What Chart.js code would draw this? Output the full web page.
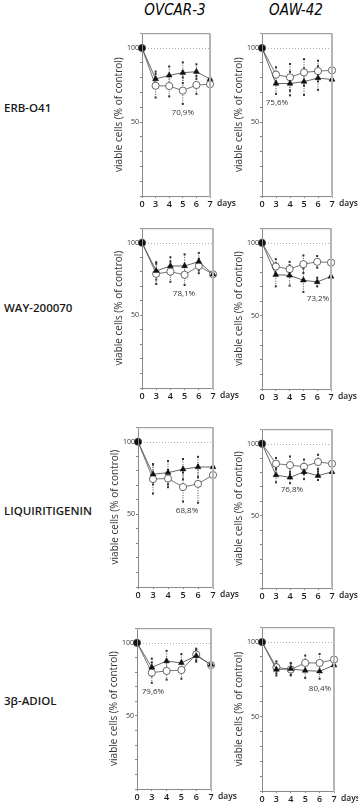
<!DOCTYPE html>
<html>
<head>
<meta charset="utf-8">
<script src="https://cdn.jsdelivr.net/npm/chart.js@4.4.0/dist/chart.umd.min.js"></script>
<style>
  body { margin: 0; background: #fff; width: 358px; height: 806px; position: relative; overflow: hidden; font-family: "Open Sans", sans-serif; }
  canvas { position: absolute; }
  .col { position: absolute; top: 1px; font-family: "DejaVu Sans"; font-stretch: condensed; font-style: oblique; font-size: 15px; color: #000; transform: translateX(-50%); white-space: nowrap; }
  .row { position: absolute; left: 4px; font-weight: 600; font-size: 11.5px; color: #1a1a1a; transform: translateY(-50%); white-space: nowrap; }
</style>
</head>
<body>
<div class="col" style="left:175px">OVCAR-3</div>
<div class="col" style="left:296px">OAW-42</div>
<div class="row" style="top:107px">ERB-O41</div>
<div class="row" style="top:307px">WAY-200070</div>
<div class="row" style="top:510px">LIQUIRITIGENIN</div>
<div class="row" style="top:700px">3β-ADIOL</div>

<script>
// x categories (days)
const days = ['0', '3', '4', '5', '6', '7'];
const shownTicks = [50, 100];

// ERB-041
const erbOvcarTri = [100, 79.1, 81.5, 83.3, 84.0, 79.0];
const erbOvcarTriErr = [0, 5, 6, 7, 5, 6];
const erbOvcarCirc = [100, 74.5, 74.3, 71.2, 75.0, 75.5];
const erbOvcarCircErr = [0, 8, 7, 9, 6, 7];
const erbOawCirc = [100, 82.0, 80.2, 83.5, 84.4, 84.9];
const erbOawCircErr = [0, 5, 9, 9, 7, 5];
const erbOawTri = [100, 76.0, 76.0, 77.3, 79.7, 78.7];
const erbOawTriErr = [0, 7, 8, 9, 8, 9];

// WAY-200070
const wayOvcarTri = [100, 80.6, 84.0, 84.0, 87.0, 78.3];
const wayOvcarTriErr = [0, 6, 6, 8, 6, 6];
const wayOvcarCirc = [100, 78.6, 80.1, 77.9, 84.0, 78.3];
const wayOvcarCircErr = [0, 7, 7, 7, 5, 7];
const wayOawCirc = [100, 83.8, 82.0, 85.4, 87.0, 86.5];
const wayOawCircErr = [0, 5, 5, 6, 4, 5];
const wayOawTri = [100, 78.2, 77.7, 74.4, 73.2, 77.0];
const wayOawTriErr = [0, 8, 7, 8, 3, 5];

// LIQUIRITIGENIN
const liqOvcarTri = [100, 77.6, 78.7, 81.1, 82.6, 82.6];
const liqOvcarTriErr = [0, 7, 8, 7, 7, 8];
const liqOvcarCirc = [100, 74.3, 74.7, 68.8, 71.0, 77.1];
const liqOvcarCircErr = [0, 10, 6, 10, 13, 8];
const liqOawCirc = [100, 86.1, 85.1, 84.0, 87.3, 86.1];
const liqOawCircErr = [0, 4, 6, 5, 5, 4];
const liqOawTri = [100, 78.2, 76.6, 80.4, 77.8, 80.4];
const liqOawTriErr = [0, 5, 4, 5, 3, 4];

// 3beta-ADIOL
const adiolOvcarTri = [100, 83.2, 87.5, 86.3, 91.1, 85.2];
const adiolOvcarTriErr = [0, 6, 7, 6, 4, 5];
const adiolOvcarCirc = [100, 79.6, 80.8, 81.4, 92.0, 84.8];
const adiolOvcarCircErr = [0, 7, 6, 6, 4, 4];
const adiolOawCirc = [100, 83.1, 81.6, 86.0, 86.0, 88.3];
const adiolOawCircErr = [0, 4, 4, 5, 6, 5];
const adiolOawTri = [100, 81.6, 82.0, 80.9, 80.4, 84.5];
const adiolOawTriErr = [0, 4, 4, 5, 5, 5];

// minimum labels: [text, x (category index), y (value)]
const erbOvcarNote = ['70,9%', 3.0, 56.3];
const erbOawNote = ['75,6%', 1.07, 63.2];
const wayOvcarNote = ['78,1%', 2.96, 65.1];
const wayOawNote = ['73,2%', 4.06, 62];
const liqOvcarNote = ['68,8%', 3.27, 52.6];
const liqOawNote = ['76,8%', 2.14, 68];
const adiolOvcarNote = ['79,6%', 1.08, 66.7];
const adiolOawNote = ['80,4%', 4.03, 68.7];

// plot box [left, top, right, bottom] in page pixels
const panels = [
  { box: [142, 32, 210, 196], tri: erbOvcarTri, triErr: erbOvcarTriErr, circ: erbOvcarCirc, circErr: erbOvcarCircErr, note: erbOvcarNote },
  { box: [262, 32, 332, 196], tri: erbOawTri, triErr: erbOawTriErr, circ: erbOawCirc, circErr: erbOawCircErr, note: erbOawNote },
  { box: [142, 227, 213, 388], tri: wayOvcarTri, triErr: wayOvcarTriErr, circ: wayOvcarCirc, circErr: wayOvcarCircErr, note: wayOvcarNote },
  { box: [262, 227, 331, 389], tri: wayOawTri, triErr: wayOawTriErr, circ: wayOawCirc, circErr: wayOawCircErr, note: wayOawNote },
  { box: [138, 426, 213, 587], tri: liqOvcarTri, triErr: liqOvcarTriErr, circ: liqOvcarCirc, circErr: liqOvcarCircErr, note: liqOvcarNote },
  { box: [262, 428, 332, 588], tri: liqOawTri, triErr: liqOawTriErr, circ: liqOawCirc, circErr: liqOawCircErr, note: liqOawNote },
  { box: [137, 627, 211, 789], tri: adiolOvcarTri, triErr: adiolOvcarTriErr, circ: adiolOvcarCirc, circErr: adiolOvcarCircErr, note: adiolOvcarNote },
  { box: [262, 626, 334, 791], tri: adiolOawTri, triErr: adiolOawTriErr, circ: adiolOawCirc, circErr: adiolOawCircErr, note: adiolOawNote }
];

const Y_W = 33, PAD_T = 4, PAD_R = 26, X_H = 15;

// dotted 100% line, error bars, frame, "days" and the minimum label
const panelDeco = {
  id: 'panelDeco',
  beforeDatasetsDraw(chart) {
    const { ctx, chartArea: a, scales: { x, y } } = chart;
    ctx.save();
    const y100 = Math.round(y.getPixelForValue(100)) + 0.5;
    ctx.strokeStyle = '#9a9a9a';
    ctx.lineWidth = 0.8;
    ctx.setLineDash([1, 2]);
    ctx.beginPath(); ctx.moveTo(a.left, y100); ctx.lineTo(a.right, y100); ctx.stroke();

    chart.data.datasets.forEach(ds => {
      ds.err.forEach((e, i) => {
        if (!e) return;
        const px = x.getPixelForValue(i);
        const top = y.getPixelForValue(ds.data[i] + e);
        const bot = y.getPixelForValue(ds.data[i] - e);
        ctx.setLineDash([1.2, 1.3]);
        ctx.strokeStyle = '#555';
        ctx.lineWidth = 0.9;
        ctx.beginPath(); ctx.moveTo(px, top); ctx.lineTo(px, bot); ctx.stroke();
        ctx.setLineDash([]);
        ctx.fillStyle = '#333';
        ctx.fillRect(px - 1, top - 1, 2, 2);
        ctx.fillRect(px - 1, bot - 1, 2, 2);
      });
    });
    ctx.restore();
  },
  afterDraw(chart, args, opts) {
    const { ctx, chartArea: a, scales: { y } } = chart;
    ctx.save();
    ctx.strokeStyle = '#8a8a8a';
    ctx.lineWidth = 1;
    ctx.beginPath();
    ctx.moveTo(a.right, a.top + 0.5); ctx.lineTo(a.left + 0.5, a.top + 0.5);
    ctx.lineTo(a.left + 0.5, a.bottom + 0.5); ctx.lineTo(a.right, a.bottom + 0.5);
    ctx.stroke();
    ctx.strokeStyle = '#b5b5b5';
    ctx.lineWidth = 2;
    ctx.beginPath(); ctx.moveTo(a.right, a.top); ctx.lineTo(a.right, a.bottom + 1); ctx.stroke();

    ctx.fillStyle = '#1a1a1a';
    ctx.font = '600 8.5px "Open Sans"';
    ctx.textBaseline = 'middle';
    ctx.textAlign = 'left';
    ctx.fillText('days', a.right + 7, a.bottom + 8);

    const n = opts.note;
    ctx.font = '8px "Open Sans"';
    ctx.fillStyle = '#333';
    ctx.textAlign = 'center';
    const nx = a.left + (a.right - a.left) * n[1] / (days.length - 1);
    ctx.fillText(n[0], nx, y.getPixelForValue(n[2]));
    ctx.restore();
  }
};

// the shared day-0 point shows up dark in the original
const circFill = days.map((d, i) => i === 0 ? '#111' : '#fff');

panels.forEach(p => {
  const [l, t, r, b] = p.box;
  const c = document.createElement('canvas');
  const w = (r - l) + Y_W + PAD_R;
  const h = (b - t) + PAD_T + X_H;
  c.width = w; c.height = h;
  c.style.left = (l - Y_W) + 'px';
  c.style.top = (t - PAD_T) + 'px';
  c.style.width = w + 'px'; c.style.height = h + 'px';
  document.body.appendChild(c);

  new Chart(c.getContext('2d'), {
    type: 'line',
    data: {
      labels: days,
      datasets: [{
        data: p.tri,
        err: p.triErr,
        clip: false,
        borderColor: '#555',
        borderWidth: 0.9,
        pointStyle: 'triangle',
        pointRadius: 3.4,
        pointBackgroundColor: '#111',
        pointBorderColor: '#111',
        pointBorderWidth: 0.5
      }, {
        data: p.circ,
        err: p.circErr,
        clip: false,
        borderColor: '#666',
        borderWidth: 0.9,
        pointStyle: 'circle',
        pointRadius: 3.6,
        pointBackgroundColor: circFill,
        pointBorderColor: '#444',
        pointBorderWidth: 0.8
      }]
    },
    options: {
      responsive: false,
      animation: false,
      layout: { padding: { left: 0, right: PAD_R, top: PAD_T, bottom: 0 } },
      plugins: {
        legend: { display: false },
        tooltip: { enabled: false },
        panelDeco: { note: p.note }
      },
      scales: {
        x: {
          offset: false,
          afterFit: s => { s.height = X_H; },
          grid: { drawOnChartArea: false, tickLength: 2, color: '#888' },
          border: { display: false },
          ticks: { padding: 1, color: '#1a1a1a', font: { family: 'Open Sans', size: 9, weight: '600' }, maxRotation: 0, autoSkip: false }
        },
        y: {
          min: 0,
          max: 110,
          afterFit: s => { s.width = Y_W; },
          grid: { drawOnChartArea: false, tickLength: 2, color: '#888' },
          border: { display: false },
          ticks: {
            stepSize: 10,
            autoSkip: false,
            padding: 1,
            color: '#333',
            font: { family: 'Open Sans', size: 7 },
            callback: v => shownTicks.includes(v) ? String(v) : ''
          },
          title: {
            display: true,
            text: 'viable cells (% of control)',
            color: '#333',
            font: { family: 'Open Sans', size: 10 },
            padding: { top: 4, bottom: 0 }
          }
        }
      }
    },
    plugins: [panelDeco]
  });
});
</script>
</body>
</html>
